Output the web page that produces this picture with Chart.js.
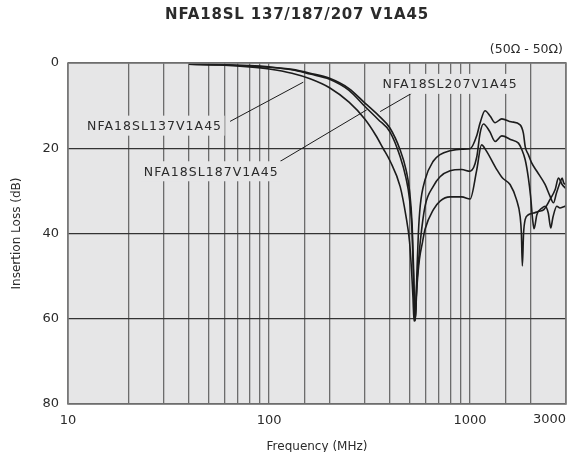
<!DOCTYPE html>
<html>
<head>
<meta charset="utf-8">
<script src="https://cdn.jsdelivr.net/npm/chart.js@4/dist/chart.umd.min.js"></script>
<style>
  html, body { margin: 0; padding: 0; background: #fff; }
  canvas { display: block; }
</style>
</head>
<body>
<canvas id="chart" width="585" height="452"></canvas>
<script>
/* ═══════════════════════════════════════════
   DATA  (frequency in MHz, insertion loss in dB)
═══════════════════════════════════════════ */
const freq137 = [40, 60, 80, 100, 130, 160, 200, 250, 300, 340, 369, 400, 449, 480, 500, 512, 520, 526, 533, 545, 560, 580, 597, 657, 709, 795, 909, 1000, 1080, 1140, 1200, 1358, 1450, 1581, 1700, 1774, 1800, 1820, 1845, 1880, 1950, 2070, 2200, 2327, 2500, 2650, 2750, 2870, 3000];
const loss137 = [0.3, 0.5, 0.9, 1.4, 2.4, 3.7, 5.8, 9.2, 13.2, 17, 20, 23, 29, 36, 42, 49, 55, 60.5, 60, 52, 46, 42, 39, 34.4, 32.4, 31.4, 31.4, 31.9, 25, 19.2, 20.5, 25, 27, 28.5, 32, 36, 40, 47.6, 40, 36.7, 35.6, 35.2, 34.8, 34.4, 32, 29.7, 27, 28.5, 29.5];

const freq187 = [40, 60, 80, 100, 130, 160, 200, 250, 300, 350, 400, 449, 480, 500, 515, 524, 530, 535, 543, 553, 565, 597, 657, 709, 795, 909, 1000, 1080, 1121, 1165, 1250, 1332, 1438, 1600, 1740, 1808, 1880, 1950, 2000, 2050, 2081, 2149, 2285, 2360, 2449, 2520, 2580, 2700, 2800, 2900, 3000];
const loss187 = [0.3, 0.4, 0.7, 1.0, 1.6, 2.6, 3.8, 6.4, 10.2, 13.3, 16.2, 22, 27, 32, 40, 52, 60.5, 59, 52, 47, 42, 33.6, 28.9, 26.7, 25.3, 25, 25.4, 22, 16.5, 14.3, 16, 18.4, 17.1, 18, 18.8, 20.3, 22.7, 27, 31.3, 37, 38.9, 35.6, 34, 33.6, 35.2, 38.7, 36.3, 33.6, 34, 33.8, 33.5];

const freq207 = [40, 60, 80, 100, 130, 160, 200, 250, 300, 350, 400, 449, 480, 500, 515, 525, 532, 537, 545, 553, 565, 597, 657, 709, 795, 909, 1000, 1080, 1121, 1187, 1260, 1332, 1438, 1600, 1774, 1842, 1880, 1950, 2028, 2149, 2360, 2500, 2600, 2690, 2800, 2870, 2920, 3000];
const loss207 = [0.3, 0.4, 0.6, 0.9, 1.5, 2.4, 3.6, 6.0, 9.4, 12.3, 15.3, 20.4, 25, 30, 38, 50, 60.5, 58, 48, 40, 33.5, 27.4, 23, 21.5, 20.6, 20.2, 20.1, 17, 14.1, 11.2, 12.5, 14.0, 13.1, 13.8, 14.5, 16.5, 19.6, 21.5, 23.5, 25.4, 28.5, 31.3, 32.8, 30.5, 28.1, 27, 28.1, 28.5];

const xLabelValues = [10, 100, 1000, 3000];
const yTickStep = 20;

const chartTitle = 'NFA18SL 137/187/207 V1A45';
const impedanceNote = '(50Ω - 50Ω)';
const xTitle = 'Frequency (MHz)';
const yTitle = 'Insertion Loss (dB)';

// part labels: text centre and leader line, in [MHz, dB]
const partNames  = ['NFA18SL137V1A45', 'NFA18SL187V1A45', 'NFA18SL207V1A45'];
const labelAt    = [[26.8, 14.7], [51.3, 25.4], [791, 4.9]];
const leaderFrom = [[64, 13.7], [113.4, 23.1], [513, 7.1]];
const leaderTo   = [[148, 4.5], [306, 11.0], [357, 11.4]];

/* ═══════════════════════════════════════════
   STYLE
═══════════════════════════════════════════ */
const FONT = '"DejaVu Sans", sans-serif';
const INK = '#2b2b2b';
const PLOT_BG = '#e6e6e7';
const LINE = '#1c1c1c';

Chart.defaults.font.family = FONT;
Chart.defaults.font.size = 13;
Chart.defaults.color = INK;

const toPoints = (xs, ys) => xs.map((x, k) => ({ x, y: ys[k] }));

function series(label, xs, ys) {
  return {
    label, data: toPoints(xs, ys),
    borderColor: LINE, borderWidth: 1.6,
    pointRadius: 0, fill: false,
    cubicInterpolationMode: 'monotone'
  };
}

// spread letters so the text fills a target width (the original face runs wide)
function fitSpacing(ctx, text, width) {
  ctx.letterSpacing = '0px';
  const w = ctx.measureText(text).width;
  const sp = Math.max(0, (width - w) / text.length);
  ctx.letterSpacing = sp.toFixed(2) + 'px';
  return sp;
}

/* ═══════════════════════════════════════════
   DECORATION PLUGIN
═══════════════════════════════════════════ */
const decor = {
  id: 'decor',
  beforeDraw(chart) {
    const { ctx, chartArea: a } = chart;
    ctx.save();
    ctx.fillStyle = PLOT_BG;
    ctx.fillRect(a.left, a.top, a.right - a.left, a.bottom - a.top);
    ctx.restore();
  },
  afterDraw(chart) {
    const { ctx, chartArea: a, scales: { x, y } } = chart;
    const P = ([f, db]) => [x.getPixelForValue(f), y.getPixelForValue(db)];
    ctx.save();

    // frame
    ctx.strokeStyle = '#7c7c7c';
    ctx.lineWidth = 1.6;
    ctx.strokeRect(a.left, a.top, a.right - a.left, a.bottom - a.top);

    // leader lines
    ctx.strokeStyle = '#1c1c1c';
    ctx.lineWidth = 1;
    leaderFrom.forEach((p, k) => {
      const [x0, y0] = P(p), [x1, y1] = P(leaderTo[k]);
      ctx.beginPath(); ctx.moveTo(x0, y0); ctx.lineTo(x1, y1); ctx.stroke();
    });

    // part labels on plot-coloured boxes
    ctx.font = `12.5px ${FONT}`;
    ctx.textAlign = 'center';
    ctx.textBaseline = 'middle';
    partNames.forEach((name, k) => {
      const [cx, cy] = P(labelAt[k]);
      const w = 135;
      ctx.fillStyle = PLOT_BG;
      ctx.fillRect(cx - w / 2 - 3, cy - 10, w + 6, 20);
      ctx.fillStyle = INK;
      const sp = fitSpacing(ctx, name, w);
      ctx.fillText(name, cx + sp / 2, cy + 1);
    });
    ctx.letterSpacing = '0px';

    // last x label sits flush with the right edge
    ctx.font = `13px ${FONT}`;
    ctx.textAlign = 'right';
    const last = xLabelValues[xLabelValues.length - 1];
    ctx.fillText(String(last), x.getPixelForValue(last), 420);

    // impedance note
    ctx.font = `12.5px ${FONT}`;
    ctx.fillText(impedanceNote, a.right - 3, 50);

    // title
    ctx.font = `bold 15px ${FONT}`;
    ctx.textAlign = 'center';
    ctx.letterSpacing = '0.8px';
    ctx.fillText(chartTitle, 297, 15);
    ctx.letterSpacing = '0px';

    // axis titles
    ctx.font = `12px ${FONT}`;
    ctx.textBaseline = 'alphabetic';
    ctx.fillText(xTitle, (a.left + a.right) / 2, 450);
    ctx.translate(20, (a.top + a.bottom) / 2);
    ctx.rotate(-Math.PI / 2);
    ctx.fillText(yTitle, 0, 0);

    ctx.restore();
  }
};

/* ═══════════════════════════════════════════
   CHART
═══════════════════════════════════════════ */
new Chart(document.getElementById('chart'), {
  type: 'line',
  data: {
    datasets: [
      series('NFA18SL137V1A45', freq137, loss137),
      series('NFA18SL187V1A45', freq187, loss187),
      series('NFA18SL207V1A45', freq207, loss207)
    ]
  },
  options: {
    responsive: false,
    animation: false,
    devicePixelRatio: 1,
    layout: { padding: { top: 63, right: 19, left: 0, bottom: 0 } },
    plugins: { legend: { display: false }, title: { display: false }, tooltip: { enabled: false } },
    scales: {
      x: {
        type: 'logarithmic', min: 10, max: 3000,
        afterFit: s => { s.height = 48; },
        grid: { color: '#6c6c6c', lineWidth: 1.3, drawTicks: false },
        border: { display: false },
        ticks: {
          autoSkip: false, maxRotation: 0, padding: 9,
          callback: v => (xLabelValues.includes(v) && v !== xLabelValues[xLabelValues.length - 1]) ? String(v) : ''
        }
      },
      y: {
        type: 'linear', min: 0, max: 80, reverse: true,
        afterFit: s => { s.width = 68; },
        grid: { color: '#333', lineWidth: 1.2, drawTicks: false },
        border: { display: false },
        ticks: { stepSize: yTickStep, padding: 9 }
      }
    }
  },
  plugins: [decor]
});
</script>
</body>
</html>
